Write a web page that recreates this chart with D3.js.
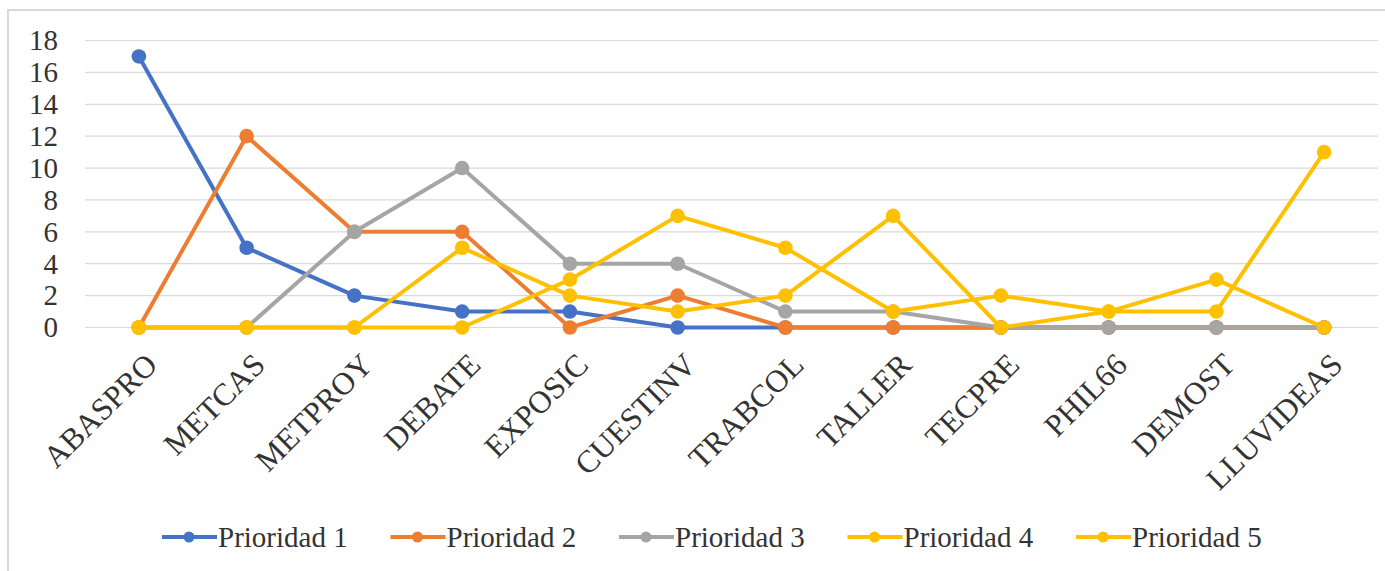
<!DOCTYPE html>
<html>
<head>
<meta charset="utf-8">
<script src="https://cdn.jsdelivr.net/npm/d3@7"></script>
<style>
  body { margin: 0; background: #fff; }
</style>
</head>
<body>
<script>
const categories = ['ABASPRO', 'METCAS', 'METPROY', 'DEBATE', 'EXPOSIC', 'CUESTINV', 'TRABCOL', 'TALLER', 'TECPRE', 'PHIL66', 'DEMOST', 'LLUVIDEAS']
const prioridad1 = [17, 5, 2, 1, 1, 0, 0, 0, 0, 0, 0, 0]
const prioridad2 = [0, 12, 6, 6, 0, 2, 0, 0, 0, 0, 0, 0]
const prioridad3 = [0, 0, 6, 10, 4, 4, 1, 1, 0, 0, 0, 0]
const prioridad4 = [0, 0, 0, 5, 2, 1, 2, 7, 0, 1, 3, 0]
const prioridad5 = [0, 0, 0, 0, 3, 7, 5, 1, 2, 1, 1, 11]
const seriesNames = ['Prioridad 1', 'Prioridad 2', 'Prioridad 3', 'Prioridad 4', 'Prioridad 5']
const yTicks = [0, 2, 4, 6, 8, 10, 12, 14, 16, 18]

const colors = ['#4472C4', '#ED7D31', '#A5A5A5', '#FFC000', '#FFC000']
const series = [prioridad1, prioridad2, prioridad3, prioridad4, prioridad5].map((values, i) => ({
  name: seriesNames[i],
  color: colors[i],
  values: values
}))

const width = 1385, height = 571
const FONT = "'Liberation Serif', 'DejaVu Serif', serif"

const svg = d3.select('body').append('svg')
  .attr('width', width)
  .attr('height', height)

// chart border (cut off on right / bottom like the source)
svg.append('rect')
  .attr('x', 8).attr('y', 10)
  .attr('width', 1400).attr('height', 600)
  .attr('fill', 'none')
  .attr('stroke', '#d9d9d9')
  .attr('stroke-width', 2)

const x = d3.scalePoint().domain(categories).range([85, 1378]).padding(0.5)
const y = d3.scaleLinear().domain([0, 18]).range([327.5, 40.5])

// gridlines
svg.append('g').selectAll('line').data(yTicks).join('line')
  .attr('x1', 85).attr('x2', 1378)
  .attr('y1', d => y(d)).attr('y2', d => y(d))
  .attr('stroke', '#d9d9d9')
  .attr('stroke-width', 1.2)

// y axis labels
const yAxis = svg.append('g')
  .attr('transform', 'translate(58,0)')
  .call(d3.axisLeft(y).tickValues(yTicks).tickSize(0).tickPadding(0))
yAxis.select('.domain').remove()
yAxis.selectAll('text')
  .style('font-family', FONT)
  .style('font-size', '29px')
  .attr('fill', '#333')

// x axis labels, rotated
const xAxis = svg.append('g')
  .attr('transform', 'translate(0,352)')
  .call(d3.axisBottom(x).tickSize(0).tickPadding(0))
xAxis.select('.domain').remove()
xAxis.selectAll('text')
  .style('font-family', FONT)
  .style('font-size', '31.5px')
  .attr('fill', '#333')
  .attr('text-anchor', 'end')
  .attr('dy', '0.66em')
  .attr('y', 0)
  .attr('transform', 'translate(5,0) rotate(-45)')

const line = d3.line()
  .x((d, i) => x(categories[i]))
  .y(d => y(d))

series.forEach(s => {
  const g = svg.append('g')
  g.append('path')
    .datum(s.values)
    .attr('d', line)
    .attr('fill', 'none')
    .attr('stroke', s.color)
    .attr('stroke-width', 4)
    .attr('stroke-linejoin', 'round')
  g.selectAll('circle').data(s.values).join('circle')
    .attr('cx', (d, i) => x(categories[i]))
    .attr('cy', d => y(d))
    .attr('r', 7.3)
    .attr('fill', s.color)
})

// legend
const legend = svg.append('g')
  .attr('transform', 'translate(162,537)')
const items = legend.selectAll('g').data(series).join('g')
  .attr('transform', (d, i) => `translate(${i * 228.5},0)`)
items.append('line')
  .attr('x1', 0).attr('x2', 55)
  .attr('y1', 0).attr('y2', 0)
  .attr('stroke', d => d.color)
  .attr('stroke-width', 4)
items.append('circle')
  .attr('cx', 27).attr('cy', 0).attr('r', 5.5)
  .attr('fill', d => d.color)
items.append('text')
  .attr('x', 56)
  .attr('y', 0)
  .attr('dy', '0.33em')
  .style('font-family', FONT)
  .style('font-size', '29px')
  .attr('fill', '#333')
  .text(d => d.name)
</script>
</body>
</html>
